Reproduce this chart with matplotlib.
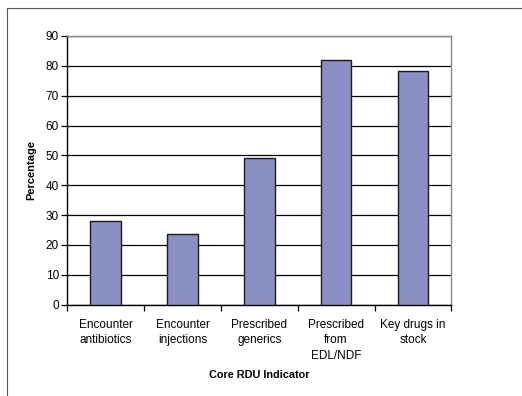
import matplotlib
matplotlib.use("Agg")
import matplotlib.pyplot as plt
from matplotlib.patches import Rectangle
import numpy as np

plt.rcParams["font.family"] = ["Liberation Sans", "DejaVu Sans"]

indicators = [
    "Encounter\nantibiotics",
    "Encounter\ninjections",
    "Prescribed\ngenerics",
    "Prescribed\nfrom\nEDL/NDF",
    "Key drugs in\nstock",
]
percentages = [28.1, 23.6, 49.3, 82.1, 78.4]
y_ticks = list(range(0, 91, 10))

fig = plt.figure(figsize=(5.22, 3.96), dpi=100)
# outer chart-area border (Excel style)
fig.patches.append(Rectangle((7 / 522, -0.02), 1.05, 1 - 8 / 396 + 0.02,
                             transform=fig.transFigure, fill=False,
                             edgecolor="#555555", linewidth=0.8))

ax = fig.add_axes([67.3 / 522, 1 - 304.7 / 396, 384 / 522, 268.7 / 396])

x = np.arange(len(indicators))
ax.bar(x, percentages, width=0.4, color="#8a8fc4", edgecolor="#1a1a1a",
       linewidth=1.0, zorder=3)

ax.set_xlim(-0.5, len(indicators) - 0.5)
ax.set_ylim(0, 90)
ax.set_yticks(y_ticks)
ax.yaxis.grid(True, color="black", linewidth=0.9, zorder=0)
ax.set_axisbelow(True)

# category boundary ticks, labels centred between them
ax.set_xticks(np.arange(-0.5, len(indicators), 1.0))
ax.set_xticklabels([])
ax.set_xticks(x, minor=True)
ax.set_xticklabels(indicators, minor=True, fontsize=8.5, linespacing=1.42)
ax.tick_params(axis="x", which="minor", length=0, pad=10)
ax.tick_params(axis="x", which="major", length=4, width=0.9, direction="out")
ax.tick_params(axis="y", length=4, width=0.9, labelsize=8.5, pad=2)

for side in ["top", "right"]:
    ax.spines[side].set_color("#888888")
    ax.spines[side].set_linewidth(1.0)
for side in ["left", "bottom"]:
    ax.spines[side].set_color("black")
    ax.spines[side].set_linewidth(1.0)

ax.set_ylabel("Percentage", fontsize=8, fontweight="bold", labelpad=7)
ax.set_xlabel("Core RDU Indicator", fontsize=7.8, fontweight="bold", labelpad=6)

fig.savefig("out.png", dpi=100)
